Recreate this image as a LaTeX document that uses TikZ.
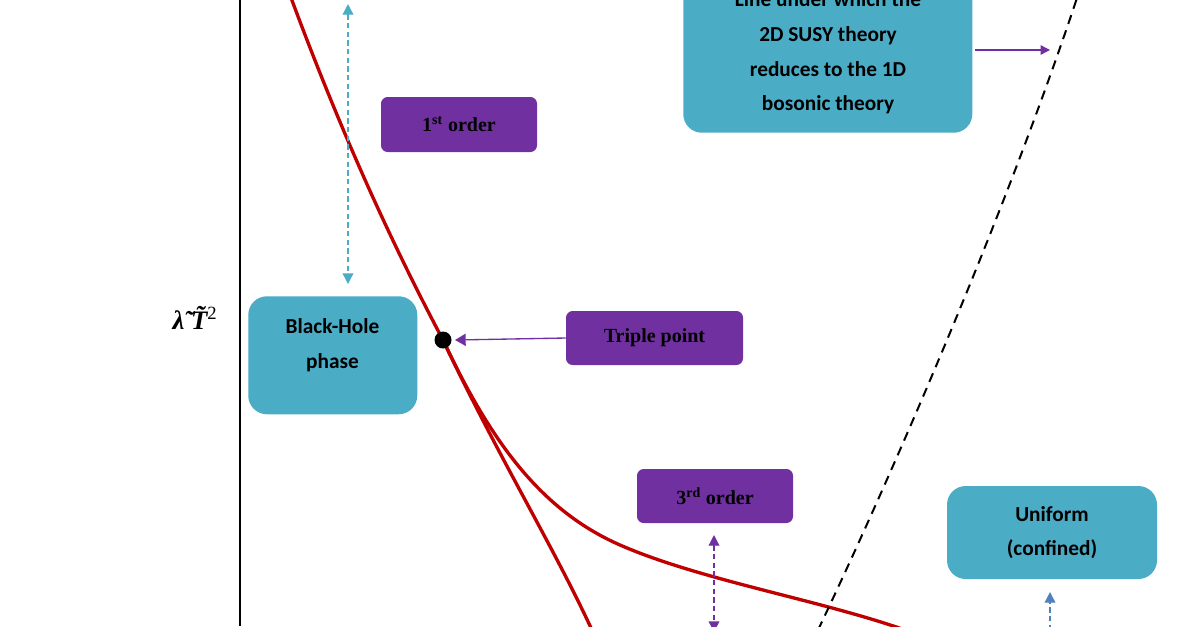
\documentclass[tikz,border=0pt]{standalone}
\usepackage{fontspec}
\setmainfont{Liberation Serif}
\newfontfamily\carl{Carlito}
\usetikzlibrary{arrows.meta}
\definecolor{teal1}{HTML}{4BACC6}
\definecolor{purp}{HTML}{7030A0}
\definecolor{red1}{HTML}{C00000}
\definecolor{blu}{HTML}{4F81BD}
\begin{document}
\begin{tikzpicture}[x=0.75pt,y=-0.75pt,
  tealbox/.style={fill=teal1,rounded corners=14pt,font=\carl\bfseries\fontsize{16}{26}\selectfont,align=center},
  purpbox/.style={fill=purp,rounded corners=5pt,font=\bfseries\fontsize{15}{18}\selectfont},
  redline/.style={red1,line width=2.5pt},
  dsh/.style={line width=1pt,dash pattern=on 4pt off 2.5pt}]
\useasboundingbox (0,0) rectangle (1194,626);
\draw[line width=0.8pt] (240,0) -- (240,626);
\node (lab) at (195,318) {\fontsize{20}{22}\selectfont\itshape\bfseries \~{λ} \~{T}\textsuperscript{\normalfont 2}};
\coordinate (tp) at (443,340);
\draw[redline] (290,-5) .. controls (340,130) and (390,240) .. (tp);
\draw[redline] (tp) .. controls (500,460) and (550,540) .. (592,630);
\draw[redline] (tp) .. controls (490,440) and (540,510) .. (620,545) .. controls (700,580) and (820,600) .. (905,630);
\draw[line width=1.5pt,dash pattern=on 7pt off 5pt] (818,630) .. controls (880,500) and (1000,230) .. (1078,-5);
\fill (tp) circle (8.5);
\node[tealbox,minimum width=289pt*0.75,minimum height=175pt*0.75,anchor=south west] (susy) at (683,133) {};
\node[font=\carl\bfseries\fontsize{16}{26}\selectfont,align=center,anchor=north] (susyt) at (828,-13) {Line under which the\\2D SUSY theory\\reduces to the 1D\\bosonic theory};
\node[purpbox,minimum width=156pt*0.75,minimum height=55pt*0.75] (first) at (459,124.5) {1\textsuperscript{st} order};
\node[tealbox,minimum width=169pt*0.75,minimum height=118pt*0.75,anchor=north west] (bh) at (248,296) {};
\node[font=\carl\bfseries\fontsize{16}{26}\selectfont,align=center,anchor=north] (bht) at (332.5,314) {Black-Hole\\phase};
\node[purpbox,minimum width=177pt*0.75,minimum height=54pt*0.75] (trip) at (654.5,338) {Triple point};
\node[purpbox,minimum width=156pt*0.75,minimum height=54pt*0.75] (third) at (715,496) {3\textsuperscript{rd} order};
\node[tealbox,minimum width=210pt*0.75,minimum height=93pt*0.75] (uni) at (1052,532.5) {Uniform\\(confined)};
\coordinate (sa) at (975,50); \coordinate (sb) at (1050,50);
\draw[purp,line width=1pt,-{Triangle[length=7pt,width=7pt]}] (sa) -- (sb);
\draw[purp,line width=1pt,-{Triangle[length=8pt,width=9pt]}] (trip.west) -- (455,340);
\coordinate (c1) at (348,4); \coordinate (c2) at (348,284);
\draw[teal1,dsh,{Triangle[length=8pt,width=8pt]}-{Triangle[length=8pt,width=8pt]}] (c1) -- (c2);
\coordinate (p1) at (714,535); \coordinate (p2) at (714,632);
\draw[purp,dsh,{Triangle[length=8pt,width=8pt]}-{Triangle[length=8pt,width=8pt]}] (p1) -- (p2);
\coordinate (b1) at (1050,630); \coordinate (b2) at (1050,592);
\draw[blu,dsh,-{Triangle[length=8pt,width=8pt]}] (b1) -- (b2);
\end{tikzpicture}
\end{document}
